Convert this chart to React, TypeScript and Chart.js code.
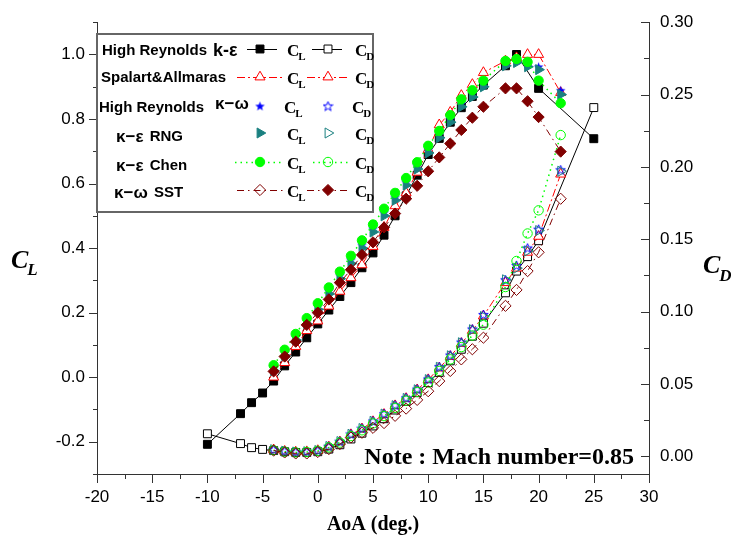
import { useEffect, useRef } from 'react';
import { Chart, registerables } from 'chart.js';
import { drawPoint } from 'chart.js/helpers';

Chart.register(...registerables);

// ---------- data ----------
const aoaKE_CL = [-10, -7, -6, -5, -4, -3, -2, -1, 0, 1, 2, 3, 4, 5, 6, 7, 8, 9, 10, 11, 12, 13, 14, 15, 17, 18, 20, 25];
const clKE = [-0.208, -0.113, -0.079, -0.049, -0.012, 0.035, 0.078, 0.122, 0.165, 0.208, 0.25, 0.293, 0.339, 0.385, 0.44, 0.5, 0.562, 0.626, 0.69, 0.74, 0.79, 0.835, 0.87, 0.905, 0.965, 1.0, 0.895, 0.739];
const aoaKE_CD = [-10, -7, -6, -5, -4, -3, -2, -1, 0, 1, 2, 3, 4, 5, 6, 7, 8, 9, 10, 11, 12, 13, 14, 15, 17, 18, 19, 20, 25];
const cdKE = [0.0156, 0.0088, 0.006, 0.0048, 0.004, 0.0032, 0.0027, 0.0027, 0.0032, 0.005, 0.008, 0.012, 0.016, 0.021, 0.026, 0.032, 0.038, 0.044, 0.051, 0.058, 0.066, 0.074, 0.083, 0.092, 0.113, 0.128, 0.138, 0.149, 0.241];

const aoa = [-4, -3, -2, -1, 0, 1, 2, 3, 4, 5, 6, 7, 8, 9, 10, 11, 12, 13, 14, 15, 17, 18, 19, 20, 22];
const clSA = [0.0, 0.045, 0.095, 0.144, 0.174, 0.22, 0.266, 0.308, 0.348, 0.405, 0.464, 0.531, 0.571, 0.635, 0.705, 0.782, 0.821, 0.873, 0.907, 0.944, 0.98, 0.99, 1.0, 1.0, 0.882];
const cdSA = [0.0045, 0.0035, 0.003, 0.0032, 0.004, 0.0065, 0.01, 0.015, 0.019, 0.024, 0.029, 0.035, 0.04, 0.046, 0.053, 0.061, 0.069, 0.078, 0.087, 0.097, 0.12, 0.13, 0.141, 0.152, 0.195];
const clKW = [0.03, 0.078, 0.125, 0.175, 0.22, 0.268, 0.316, 0.364, 0.41, 0.46, 0.51, 0.558, 0.605, 0.655, 0.705, 0.752, 0.8, 0.848, 0.878, 0.91, 0.972, 0.982, 0.97, 0.962, 0.889];
const cdKW = [0.0048, 0.0038, 0.0032, 0.0034, 0.0042, 0.007, 0.0105, 0.0155, 0.0195, 0.0245, 0.0295, 0.0355, 0.0405, 0.0465, 0.0535, 0.062, 0.07, 0.079, 0.088, 0.098, 0.122, 0.132, 0.144, 0.157, 0.198];
const clRNG = [0.02, 0.067, 0.115, 0.165, 0.21, 0.258, 0.305, 0.352, 0.4, 0.45, 0.5, 0.548, 0.595, 0.645, 0.695, 0.742, 0.79, 0.838, 0.868, 0.9, 0.965, 0.975, 0.962, 0.953, 0.876];
const cdRNG = [0.0046, 0.0036, 0.003, 0.0032, 0.004, 0.0068, 0.0102, 0.0152, 0.0192, 0.0242, 0.0292, 0.035, 0.04, 0.046, 0.053, 0.0615, 0.0695, 0.0785, 0.0875, 0.0966, 0.122, 0.13, 0.142, 0.156, 0.197];
const clChen = [0.037, 0.085, 0.134, 0.183, 0.229, 0.278, 0.327, 0.376, 0.424, 0.473, 0.522, 0.571, 0.617, 0.666, 0.717, 0.763, 0.812, 0.861, 0.889, 0.919, 0.98, 0.986, 0.977, 0.919, 0.849];
const cdChen = [0.0042, 0.0032, 0.0027, 0.003, 0.0038, 0.0062, 0.0095, 0.014, 0.018, 0.0228, 0.0278, 0.0335, 0.0385, 0.0445, 0.051, 0.059, 0.067, 0.0755, 0.0835, 0.091, 0.117, 0.135, 0.154, 0.17, 0.222];
const clSST = [0.018, 0.064, 0.11, 0.162, 0.2, 0.241, 0.293, 0.333, 0.379, 0.418, 0.464, 0.507, 0.553, 0.593, 0.638, 0.681, 0.724, 0.766, 0.804, 0.838, 0.895, 0.895, 0.855, 0.806, 0.699];
const cdSST = [0.004, 0.0027, 0.002, 0.002, 0.003, 0.005, 0.0085, 0.013, 0.0163, 0.0197, 0.023, 0.028, 0.033, 0.039, 0.045, 0.052, 0.059, 0.067, 0.074, 0.082, 0.104, 0.115, 0.128, 0.141, 0.178];

const xTicks = [-20, -15, -10, -5, 0, 5, 10, 15, 20, 25, 30];
const clTicks = [-0.2, 0, 0.2, 0.4, 0.6, 0.8, 1.0];
const cdTicks = [0, 0.05, 0.1, 0.15, 0.2, 0.25, 0.3];
const xMinor = [-17.5, -12.5, -7.5, -2.5, 2.5, 7.5, 12.5, 17.5, 22.5, 27.5];
const clMinor = [-0.3, -0.1, 0.1, 0.3, 0.5, 0.7, 0.9, 1.1];
const cdMinor = [0.025, 0.075, 0.125, 0.175, 0.225, 0.275];

const legendNames = ['High Reynolds', 'Spalart&Allmaras', 'High Reynolds', '', '', ''];
const legendGreek = ['k-ε', '', 'κ−ω', 'κ−ε', 'κ−ε', 'κ−ω'];
const legendTail = ['', '', '', ' RNG', ' Chen', ' SST'];

const BLACK = '#000000';
const RED = '#ff0000';
const BLUE = '#0000ff';
const TEAL = '#1a8080';
const GREEN = '#00ff00';
const BROWN = '#800000';
const NONE = 'rgba(255,255,255,0)';

function pts(xs: number[], ys: number[]) {
  return xs.map((x, i) => ({ x, y: ys[i] }));
}

function makeStar(fill: boolean, color: string) {
  const size = 11;
  const c = document.createElement('canvas');
  c.width = size;
  c.height = size;
  const g = c.getContext('2d')!;
  const cx = size / 2, cy = size / 2 + 0.5, R = 5, r = 2.1;
  g.beginPath();
  for (let i = 0; i < 10; i++) {
    const a = -Math.PI / 2 + (i * Math.PI) / 5;
    const rad = i % 2 === 0 ? R : r;
    g.lineTo(cx + rad * Math.cos(a), cy + rad * Math.sin(a));
  }
  g.closePath();
  if (fill) {
    g.fillStyle = color;
    g.fill();
  } else {
    g.strokeStyle = color;
    g.lineWidth = 1;
    g.stroke();
  }
  return c;
}

export default function App() {
  const ref = useRef<HTMLCanvasElement>(null);

  useEffect(() => {
    const starFill = makeStar(true, BLUE);
    const starOpen = makeStar(false, BLUE);

    type M = { style: any; rot?: number; r: number; fill: string; stroke: string; bw: number };
    const mk = {
      sqF: { style: 'rect', r: 5.6, fill: BLACK, stroke: BLACK, bw: 1 } as M,
      sqO: { style: 'rect', r: 5.6, fill: '#ffffff', stroke: BLACK, bw: 1 } as M,
      triO: { style: 'triangle', r: 5.8, fill: '#ffffff', stroke: RED, bw: 1 } as M,
      starF: { style: starFill, r: 5, fill: BLUE, stroke: BLUE, bw: 0 } as M,
      starO: { style: starOpen, r: 5, fill: NONE, stroke: BLUE, bw: 0 } as M,
      rtF: { style: 'triangle', rot: 90, r: 5.8, fill: TEAL, stroke: TEAL, bw: 1 } as M,
      rtO: { style: 'triangle', rot: 90, r: 5.8, fill: NONE, stroke: TEAL, bw: 1 } as M,
      cirF: { style: 'circle', r: 4.7, fill: GREEN, stroke: GREEN, bw: 1 } as M,
      cirO: { style: 'circle', r: 4.7, fill: NONE, stroke: GREEN, bw: 1 } as M,
      diaO: { style: 'rectRot', r: 5.6, fill: NONE, stroke: BROWN, bw: 1 } as M,
      diaF: { style: 'rectRot', r: 5.6, fill: BROWN, stroke: BROWN, bw: 1 } as M,
    };

    const ds = (
      label: string, data: any[], axis: string, m: M, color: string, line: boolean,
      dash: number[], lw: number, order: number
    ) => ({
      label, data, yAxisID: axis, showLine: line, borderColor: color, borderWidth: lw,
      borderDash: dash, backgroundColor: color,
      pointStyle: m.style, pointRotation: m.rot || 0, pointRadius: m.r,
      pointBackgroundColor: m.fill, pointBorderColor: m.stroke, pointBorderWidth: m.bw,
      pointHoverRadius: m.r, order, tension: 0, clip: false as any,
    });

    const dashSA = [8, 3, 2, 3];
    const dashChen = [1.5, 4];
    const dashSST = [7, 4, 1.5, 4];

    const datasets = [
      ds('k-e CL', pts(aoaKE_CL, clKE), 'y', mk.sqF, BLACK, true, [], 1, 6),
      ds('k-e CD', pts(aoaKE_CD, cdKE), 'y1', mk.sqO, BLACK, true, [], 1, 6),
      ds('SA CL', pts(aoa, clSA), 'y', mk.triO, RED, true, dashSA, 1, 5),
      ds('SA CD', pts(aoa, cdSA), 'y1', mk.triO, RED, true, dashSA, 1, 5),
      ds('k-w CL', pts(aoa, clKW), 'y', mk.starF, BLUE, false, [], 1, 4),
      ds('k-w CD', pts(aoa, cdKW), 'y1', mk.starO, BLUE, false, [], 1, 4),
      ds('RNG CL', pts(aoa, clRNG), 'y', mk.rtF, TEAL, false, [], 1, 3),
      ds('RNG CD', pts(aoa, cdRNG), 'y1', mk.rtO, TEAL, false, [], 1, 3),
      ds('Chen CL', pts(aoa, clChen), 'y', mk.cirF, GREEN, true, dashChen, 1.5, 2),
      ds('Chen CD', pts(aoa, cdChen), 'y1', mk.cirO, GREEN, true, dashChen, 1.5, 2),
      ds('SST CL', pts(aoa, clSST), 'y', mk.diaF, BROWN, true, dashSST, 1, 1),
      ds('SST CD', pts(aoa, cdSST), 'y1', mk.diaO, BROWN, true, dashSST, 1, 1),
    ];

    const legendSpec = [
      { cl: mk.sqF, cd: mk.sqO, color: BLACK, dash: [] as number[], lw: 1, seg: [[247, 277], [312, 342]] },
      { cl: mk.triO, cd: mk.triO, color: RED, dash: dashSA, lw: 1, seg: [[237, 283], [307, 350]] },
      { cl: mk.starF, cd: mk.starO, color: BLUE, dash: [], lw: 0, seg: [] as number[][] },
      { cl: mk.rtF, cd: mk.rtO, color: TEAL, dash: [], lw: 0, seg: [] as number[][] },
      { cl: mk.cirF, cd: mk.cirO, color: GREEN, dash: dashChen, lw: 1.5, seg: [[235, 282], [313, 350]] },
      { cl: mk.diaO, cd: mk.diaF, color: BROWN, dash: dashSST, lw: 1, seg: [[237, 283], [307, 350]] },
    ];
    const rowMarkY = [49, 77, 106, 133, 162, 190];
    const rowTextY = [51, 78, 108, 137, 166, 193];
    const rowTextX = [102, 101, 99, 116, 116, 114];
    const greekX = [213, 0, 215, 116, 116, 114];

    const SANS = "'Liberation Sans', Arial, sans-serif";
    const SERIF = "'Liberation Serif', 'Times New Roman', serif";

    const drawMarker = (ctx: CanvasRenderingContext2D, m: M, x: number, y: number) => {
      ctx.save();
      ctx.fillStyle = m.fill;
      ctx.strokeStyle = m.stroke;
      ctx.lineWidth = m.bw;
      ctx.setLineDash([]);
      drawPoint(ctx, { pointStyle: m.style, rotation: m.rot || 0, radius: m.r, borderWidth: m.bw } as any, x, y);
      ctx.restore();
    };

    const subText = (ctx: CanvasRenderingContext2D, main: string, sub: string, x: number, y: number,
      mainFont: string, subFont: string, dy: number) => {
      ctx.font = mainFont;
      ctx.fillText(main, x, y);
      const w = ctx.measureText(main).width;
      ctx.font = subFont;
      ctx.fillText(sub, x + w - 1, y + dy);
    };

    const decor = {
      id: 'decor',
      afterDraw(chart: any) {
        const ctx: CanvasRenderingContext2D = chart.ctx;
        const ca = chart.chartArea;
        const xs = chart.scales.x, yl = chart.scales.y, yr = chart.scales.y1;
        ctx.save();
        ctx.strokeStyle = '#333';
        ctx.lineWidth = 1;
        ctx.setLineDash([]);
        ctx.beginPath();
        const tickX = (v: number, len: number) => {
          const p = Math.round(xs.getPixelForValue(v)) + 0.5;
          ctx.moveTo(p, ca.bottom); ctx.lineTo(p, ca.bottom + len);
        };
        xTicks.forEach(v => tickX(v, 9));
        xMinor.forEach(v => tickX(v, 5));
        const tickL = (v: number, len: number) => {
          const p = Math.round(yl.getPixelForValue(v)) + 0.5;
          ctx.moveTo(ca.left, p); ctx.lineTo(ca.left - len, p);
        };
        clTicks.forEach(v => tickL(v, 8));
        clMinor.forEach(v => tickL(v, 4));
        const tickR = (v: number, len: number) => {
          const p = Math.round(yr.getPixelForValue(v)) + 0.5;
          ctx.moveTo(ca.right, p); ctx.lineTo(ca.right - len, p);
        };
        cdTicks.forEach(v => tickR(v, 8));
        cdMinor.forEach(v => tickR(v, 5));
        ctx.stroke();

        // axis titles
        ctx.fillStyle = '#000';
        ctx.textBaseline = 'alphabetic';
        ctx.textAlign = 'left';
        subText(ctx, 'C', 'L', 11, 268, `italic bold 26px ${SERIF}`, `italic bold 17px ${SERIF}`, 7);
        subText(ctx, 'C', 'D', 703, 273, `italic bold 26px ${SERIF}`, `italic bold 17px ${SERIF}`, 8);
        ctx.textAlign = 'center';
        ctx.font = `bold 20px ${SERIF}`;
        ctx.fillText('AoA (deg.)', 373, 530);
        ctx.textAlign = 'right';
        ctx.font = `bold 24px ${SERIF}`;
        ctx.fillText('Note : Mach number=0.85', 634, 464);

        // legend box
        ctx.fillStyle = '#ffffff';
        ctx.fillRect(97, 34, 276, 178);
        ctx.strokeStyle = '#666';
        ctx.lineWidth = 2;
        ctx.strokeRect(97, 34, 276, 178);

        legendSpec.forEach((s, i) => {
          const my = rowMarkY[i];
          if (s.seg.length) {
            ctx.save();
            ctx.strokeStyle = s.color;
            ctx.lineWidth = s.lw;
            ctx.setLineDash(s.dash);
            ctx.beginPath();
            s.seg.forEach(([a, b]) => { ctx.moveTo(a, my + 0.5); ctx.lineTo(b, my + 0.5); });
            ctx.stroke();
            ctx.restore();
          }
          drawMarker(ctx, s.cl, 260, my);
          drawMarker(ctx, s.cd, 328, my);
          ctx.fillStyle = '#000';
          ctx.textAlign = 'left';
          ctx.textBaseline = 'middle';
          const ty = rowTextY[i];
          ctx.font = `bold 15px ${SANS}`;
          if (legendNames[i]) {
            ctx.fillText(legendNames[i], rowTextX[i], ty);
          }
          let x = greekX[i];
          if (legendGreek[i]) {
            const raise = i === 2 ? -4 : 0;
            ctx.font = `bold ${i === 0 ? 18 : 17}px ${SANS}`;
            ctx.fillText(legendGreek[i], x, ty + raise);
            x += ctx.measureText(legendGreek[i]).width;
          }
          if (legendTail[i]) {
            ctx.font = `bold 15px ${SANS}`;
            ctx.fillText(legendTail[i], x + 2, ty);
          }
          ctx.textBaseline = 'alphabetic';
          const cx1 = i === 2 ? 284 : 287;
          const cx2 = i === 2 ? 352 : 355;
          subText(ctx, 'C', 'L', cx1, my + 7, `bold 17px ${SERIF}`, `bold 11px ${SERIF}`, 4);
          subText(ctx, 'C', 'D', cx2, my + 7, `bold 17px ${SERIF}`, `bold 11px ${SERIF}`, 4);
        });
        ctx.restore();
      },
    };

    const tickFont = { family: SANS, size: 17 };
    const chart = new Chart(ref.current!, {
      type: 'scatter',
      data: { datasets: datasets as any },
      options: {
        responsive: false,
        animation: false,
        devicePixelRatio: 1,
        layout: { padding: { top: 14, left: 0, right: 0, bottom: 0 } },
        plugins: { legend: { display: false }, tooltip: { enabled: false }, title: { display: false } },
        scales: {
          x: {
            type: 'linear', position: 'bottom', min: -20, max: 30,
            afterBuildTicks: (s: any) => { s.ticks = xTicks.map(v => ({ value: v })); },
            afterFit: (s: any) => { s.height = 69; },
            grid: { display: true, drawOnChartArea: false, drawTicks: false },
            border: { display: true, color: '#333', width: 1 },
            ticks: { padding: 13, color: '#000', font: tickFont, maxRotation: 0, autoSkip: false, callback: (v: any) => String(v) },
          },
          y: {
            type: 'linear', position: 'left', min: -0.3, max: 1.1,
            afterBuildTicks: (s: any) => { s.ticks = clTicks.map(v => ({ value: v })); },
            afterFit: (s: any) => { s.width = 97; },
            grid: { display: true, drawOnChartArea: false, drawTicks: false },
            border: { display: true, color: '#333', width: 1 },
            ticks: { padding: 12, color: '#000', font: tickFont, autoSkip: false, callback: (v: any) => Number(v).toFixed(1) },
          },
          y1: {
            type: 'linear', position: 'right', min: -0.0122, max: 0.3,
            afterBuildTicks: (s: any) => { s.ticks = cdTicks.map(v => ({ value: v })); },
            afterFit: (s: any) => { s.width = 82; },
            grid: { display: true, drawOnChartArea: false, drawTicks: false },
            border: { display: true, color: '#333', width: 1 },
            ticks: { padding: 11, color: '#000', font: tickFont, autoSkip: false, callback: (v: any) => Number(v).toFixed(2) },
          },
        },
      } as any,
      plugins: [decor],
    });
    return () => chart.destroy();
  }, []);

  return (
    <div style={{ position: 'fixed', left: 0, top: 0, width: 731, height: 543, background: '#fff' }}>
      <canvas ref={ref} width={731} height={543} style={{ display: 'block' }} />
    </div>
  );
}
